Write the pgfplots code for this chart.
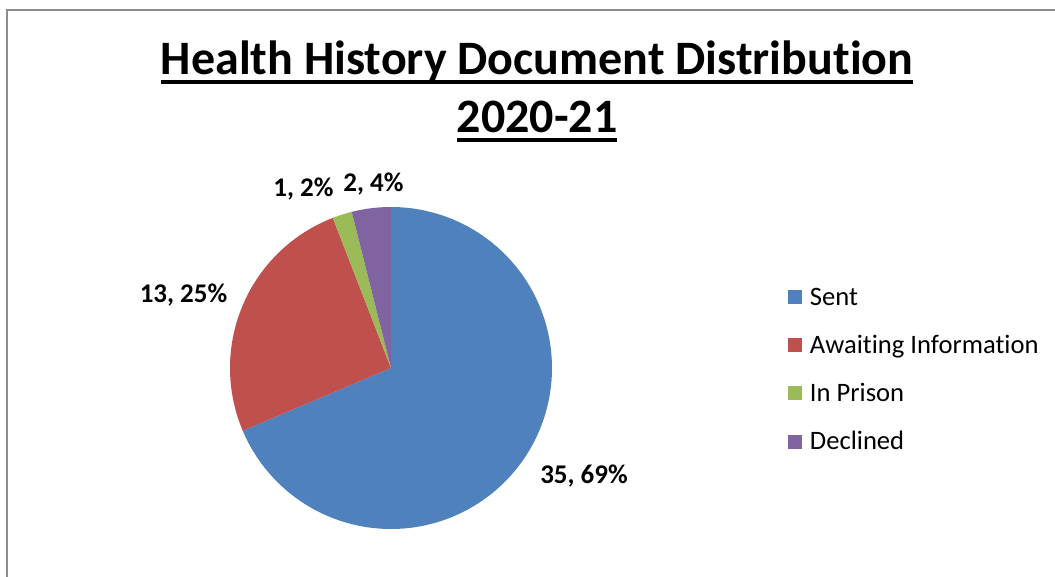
\documentclass[border=0pt]{standalone}
\usepackage{fontspec}
\setmainfont{Carlito}[Ligatures={NoCommon}]
\usepackage{pgfplots}
\pgfplotsset{compat=1.18}
\usepackage{pgfplotstable}
\definecolor{cSent}{HTML}{4F81BD}
\definecolor{cAwait}{HTML}{C0504D}
\definecolor{cPrison}{HTML}{9BBB59}
\definecolor{cDecl}{HTML}{8064A2}
\definecolor{cFrame}{HTML}{8C8C8C}
\newcommand\ul[1]{\setbox0\hbox{#1}\rlap{\rule[-9pt]{\wd0}{3.5pt}}\box0}
\pgfplotstableread{
label value
Sent 35
Awaiting 13
Prison 1
Declined 2
}\piedata
\pgfplotstablegetelem{0}{value}\of\piedata \let\vA\pgfplotsretval
\pgfplotstablegetelem{1}{value}\of\piedata \let\vB\pgfplotsretval
\pgfplotstablegetelem{2}{value}\of\piedata \let\vC\pgfplotsretval
\pgfplotstablegetelem{3}{value}\of\piedata \let\vD\pgfplotsretval
\pgfmathsetmacro\tot{\vA+\vB+\vC+\vD}
\pgfmathsetmacro\aZ{90}
\pgfmathsetmacro\aA{\aZ-360*\vA/\tot}
\pgfmathsetmacro\aB{\aA-360*\vB/\tot}
\pgfmathsetmacro\aC{\aB-360*\vC/\tot}
\pgfmathsetmacro\aD{\aC-360*\vD/\tot}
\begin{document}
\begin{tikzpicture}
\begin{axis}[
  scale only axis, width=1055pt, height=576pt,
  xmin=0, xmax=1055, ymin=0, ymax=576,
  hide axis, clip=false,
  legend style={draw=none, fill=none, at={(0.7469,0.5)}, anchor=north west,
    inner sep=0pt, outer sep=0pt, font=\fontsize{26.6}{31}\selectfont, row sep=29.6pt,
    nodes={inner sep=0pt},
    /tikz/every odd column/.append style={column sep=8pt},
    /tikz/every even column/.append style={text height=17pt, text depth=3pt}},
  legend cell align=left,
  legend image code/.code={\fill[#1] (0pt,-7pt) rectangle (14pt,7pt);},
]
\addplot[fill=cSent, draw=none, domain=\aA:\aZ, samples=150, variable=\t]
  ({391+161*cos(\t)},{208+161*sin(\t)}) -- (axis cs:391,208) -- cycle;
\addplot[fill=cAwait, draw=none, domain=\aB:\aA, samples=80, variable=\t]
  ({391+161*cos(\t)},{208+161*sin(\t)}) -- (axis cs:391,208) -- cycle;
\addplot[fill=cPrison, draw=none, domain=\aC:\aB, samples=10, variable=\t]
  ({391+161*cos(\t)},{208+161*sin(\t)}) -- (axis cs:391,208) -- cycle;
\addplot[fill=cDecl, draw=none, domain=\aD:\aC, samples=12, variable=\t]
  ({391+161*cos(\t)},{208+161*sin(\t)}) -- (axis cs:391,208) -- cycle;
\legend{Sent, Awaiting Information, In Prison, Declined}
\draw[cFrame, line width=2pt] (axis cs:6.7,-20) -- (axis cs:6.7,566) -- (axis cs:1080,566);
\node[anchor=base, font=\fontsize{48}{56}\bfseries\selectfont] at (axis cs:537,501) {\ul{Health History Document Distribution}};
\node[anchor=base, font=\fontsize{48}{56}\bfseries\selectfont] at (axis cs:537,443) {\ul{2020-21}};
\node[anchor=base, font=\fontsize{27}{32}\bfseries\selectfont] at (axis cs:183.5,273) {13, 25\%};
\node[anchor=base, font=\fontsize{27}{32}\bfseries\selectfont] at (axis cs:303.5,379) {1, 2\%};
\node[anchor=base, font=\fontsize{27}{32}\bfseries\selectfont] at (axis cs:373.5,384) {2, 4\%};
\node[anchor=base, font=\fontsize{27}{32}\bfseries\selectfont] at (axis cs:584,93) {35, 69\%};
\end{axis}
\pgfresetboundingbox
\path (0,0) rectangle (1055pt,576pt);
\end{tikzpicture}
\end{document}
